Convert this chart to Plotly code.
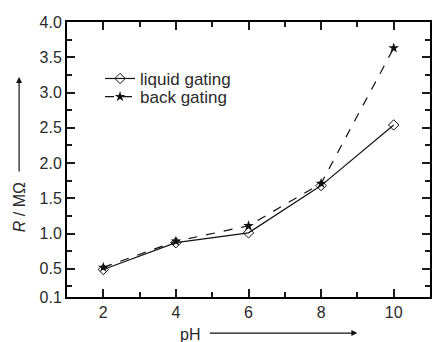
import plotly.graph_objects as go

ph = [2, 4, 6, 8, 10]
liquid = [0.49, 0.87, 1.01, 1.68, 2.54]
back = [0.52, 0.89, 1.11, 1.71, 3.63]
ytickvals = [0.1, 0.5, 1.0, 1.5, 2.0, 2.5, 3.0, 3.5, 4.0]
yticktext = ["0.1", "0.5", "1.0", "1.5", "2.0", "2.5", "3.0", "3.5", "4.0"]
yminor = [0.25, 0.75, 1.25, 1.75, 2.25, 2.75, 3.25, 3.75]
xtickvals = [2, 4, 6, 8, 10]
xminor = [3, 5, 7, 9]

fig = go.Figure()
fig.add_trace(go.Scatter(x=ph, y=liquid, mode="lines+markers", name="liquid gating",
                         line=dict(color="#111", width=1.2), legend="legend",
                         marker=dict(symbol="diamond-open", size=8, color="#111", line=dict(width=1))))
fig.add_trace(go.Scatter(x=ph, y=back, mode="lines+markers", name="back gating",
                         line=dict(color="#111", width=1.2, dash="dash"), legend="legend2",
                         marker=dict(symbol="star", size=8, color="#111")))

font = dict(family="Liberation Sans, Arial, sans-serif", size=16, color="#2a2a2a")
fig.update_layout(template="none")
fig.update_xaxes(range=[1, 11], tickmode="array", tickvals=xtickvals,
                 ticks="inside", ticklen=8, tickwidth=2, tickcolor="#1a1a1a",
                 showline=True, linecolor="black", linewidth=2, mirror="ticks",
                 showgrid=False, zeroline=False, tickfont=font,
                 minor=dict(tickmode="array", tickvals=xminor, ticks="inside", ticklen=5,
                            tickwidth=2, tickcolor="#1a1a1a", showgrid=False))
fig.update_yaxes(range=[0.1, 4.0], tickmode="array", tickvals=ytickvals, ticktext=yticktext,
                 ticks="inside", ticklen=8, tickwidth=2, tickcolor="#1a1a1a",
                 showline=True, linecolor="black", linewidth=2, mirror="ticks",
                 showgrid=False, zeroline=False, tickfont=font,
                 minor=dict(tickmode="array", tickvals=yminor, ticks="inside", ticklen=5,
                            tickwidth=2, tickcolor="#1a1a1a", showgrid=False))

legfont = dict(family="Liberation Sans, Arial, sans-serif", size=17, color="#2a2a2a")
fig.update_layout(
    width=434, height=342,
    margin=dict(l=67, r=4, t=22, b=45),
    paper_bgcolor="white", plot_bgcolor="white",
    font=font,
    showlegend=True,
    legend=dict(x=0.091, y=0.793, xanchor="left", yanchor="middle", bgcolor="rgba(0,0,0,0)",
                font=legfont, itemwidth=30),
    legend2=dict(x=0.091, y=0.727, xanchor="left", yanchor="middle", bgcolor="rgba(0,0,0,0)",
                 font=legfont, itemwidth=30),
)

# axis titles with arrows
fig.add_annotation(xref="paper", yref="paper", x=-0.132, y=0.327, xanchor="center", yanchor="middle",
                   text="<i>R</i> / MΩ", textangle=-90, showarrow=False, font=font)
fig.add_annotation(xref="paper", yref="paper", x=-0.132, y=0.80, text="", showarrow=True,
                   ax=0, ay=96, arrowhead=2, arrowsize=1, arrowwidth=1.2, arrowcolor="#111")
fig.add_annotation(xref="paper", yref="paper", x=0.339, y=-0.138, xanchor="center", yanchor="middle",
                   text="pH", showarrow=False, font=font)
fig.add_annotation(xref="paper", yref="paper", x=0.80, y=-0.131, text="", showarrow=True,
                   ax=-149, ay=0, arrowhead=2, arrowsize=1, arrowwidth=1.2, arrowcolor="#111")

fig.write_html("out.html")
